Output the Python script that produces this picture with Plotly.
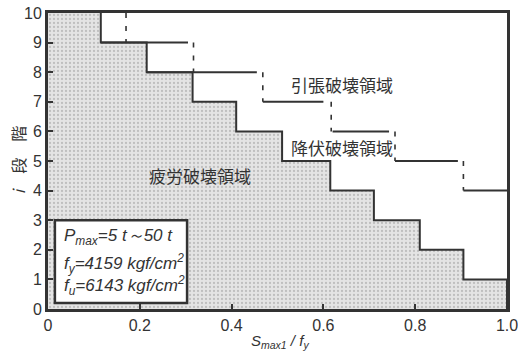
import plotly.graph_objects as go

# Story band tops (band i spans i-1 .. i)
band_tops = [10, 9, 8, 7, 6, 5, 4, 3, 2, 1]
# Fatigue-failure boundary x (Smax1/fy) for each band
fatigue_x = [0.115, 0.215, 0.315, 0.41, 0.51, 0.615, 0.71, 0.81, 0.905, 1.0]

# Yield/tension boundary: dashed verticals per band
yield_band_tops = [10, 9, 8, 7, 6, 5]
yield_x = [0.17, 0.317, 0.468, 0.617, 0.756, 0.905]

# Solid horizontal segments of yield/tension boundary
seg_levels = [9, 8, 7, 6, 5, 4]
seg_start = [0.115, 0.215, 0.468, 0.62, 0.756, 0.905]
seg_end = [0.305, 0.455, 0.60, 0.743, 0.893, 1.0]

region_labels = ["引張破壊領域", "降伏破壊領域", "疲労破壊領域"]
region_x = [0.64, 0.64, 0.331]
region_y = [7.57, 5.47, 4.5]

info_lines = ["P<sub>max</sub>=5 t～50 t",
              "f<sub>y</sub>=4159 kgf/cm<sup>2</sup>",
              "f<sub>u</sub>=6143 kgf/cm<sup>2</sup>"]
info_y = [2.42, 1.55, 0.78]

xticks = [0, 0.2, 0.4, 0.6, 0.8, 1.0]
xticklabels = ["0", "0.2", "0.4", "0.6", "0.8", "1.0"]
yticks = list(range(0, 11))

LINE = "#333333"
FONT = "Liberation Sans, Arial, sans-serif"
JFONT = "Noto Sans CJK JP, sans-serif"

# Build fatigue polygon (step)
px, py = [0.0], [0.0]
for top, fx in zip(reversed(band_tops), reversed(fatigue_x)):
    px += [fx, fx]
    py += [top - 1, top]
px += [0.0, 0.0]
py += [10, 0]

# Step line
sx, sy = [], []
for top, fx in zip(band_tops, fatigue_x):
    sx += [fx, fx]
    sy += [top, top - 1]

fig = go.Figure()
fig.add_trace(go.Scatter(
    x=px, y=py, mode="lines", fill="toself", line=dict(width=0),
    fillcolor="#dedede",
    fillpattern=dict(shape=".", fgcolor="#9a9a9a", bgcolor="#e4e4e4", size=4, solidity=0.25),
    hoverinfo="skip", showlegend=False))
fig.add_trace(go.Scatter(x=sx, y=sy, mode="lines", line=dict(color=LINE, width=2),
                         showlegend=False, hoverinfo="skip"))

hx, hy = [], []
for lv, a, b in zip(seg_levels, seg_start, seg_end):
    hx += [a, b, None]
    hy += [lv, lv, None]
fig.add_trace(go.Scatter(x=hx, y=hy, mode="lines", line=dict(color=LINE, width=2),
                         showlegend=False, hoverinfo="skip"))

vx, vy = [], []
for top, x in zip(yield_band_tops, yield_x):
    vx += [x, x, None]
    vy += [top, top - 1, None]
fig.add_trace(go.Scatter(x=vx, y=vy, mode="lines",
                         line=dict(color=LINE, width=1.6, dash="5px,8px"),
                         showlegend=False, hoverinfo="skip"))

# Info box
fig.add_shape(type="rect", x0=0.015, x1=0.303, y0=0.2, y1=3.0,
              line=dict(color=LINE, width=2.5), fillcolor="white", layer="above")
for t, y in zip(info_lines, info_y):
    fig.add_annotation(x=0.03, y=y, text="<i>" + t + "</i>", showarrow=False,
                       xanchor="left", yanchor="middle",
                       font=dict(family=FONT, size=17, color="#333333"))

for t, x, y in zip(region_labels, region_x, region_y):
    fig.add_annotation(x=x, y=y, text=t, showarrow=False,
                       xanchor="center", yanchor="middle",
                       font=dict(family=JFONT, size=17, color="#333333"))

# Axis titles
fig.add_annotation(xref="paper", yref="paper", x=0.505, y=-0.111,
                   xanchor="center", yanchor="middle",
                   text="<i>S<sub>max1</sub> / f<sub>y</sub></i>", showarrow=False,
                   font=dict(family=FONT, size=15, color="#333333"))
fig.add_annotation(xref="paper", yref="paper", x=-0.065, y=0.503,
                   xanchor="center", yanchor="middle",
                   text="<i>i</i>\u3000段\u3000階", showarrow=False, textangle=-90,
                   font=dict(family=JFONT, size=16, color="#333333"))

fig.update_xaxes(range=[0, 1.0], tickvals=xticks, ticktext=xticklabels,
                 showline=True, mirror=True, linecolor=LINE, linewidth=3,
                 ticks="inside", ticklen=5, tickwidth=2, tickcolor=LINE,
                 showgrid=False, zeroline=False, automargin=False,
                 ticklabeloverflow="allow",
                 tickfont=dict(family=FONT, size=16, color="#333333"))
fig.update_yaxes(range=[0, 10], tickvals=yticks,
                 showline=True, mirror=True, linecolor=LINE, linewidth=3,
                 ticks="inside", ticklen=5, tickwidth=2, tickcolor=LINE,
                 showgrid=False, zeroline=False, automargin=False,
                 ticklabeloverflow="allow",
                 tickfont=dict(family=FONT, size=16, color="#333333"))
fig.update_layout(width=518, height=356, margin=dict(l=48, r=11, t=13, b=47),
                  plot_bgcolor="white", paper_bgcolor="white")
fig.write_html("out.html")
